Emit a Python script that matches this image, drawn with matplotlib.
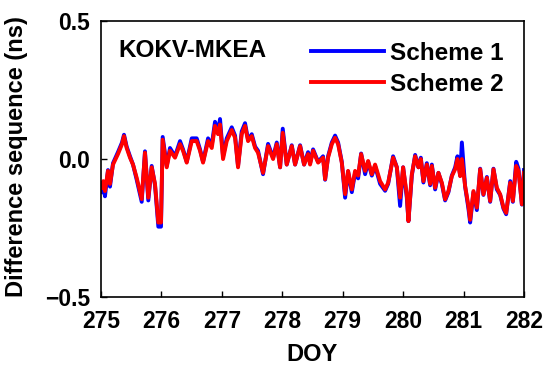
import matplotlib
matplotlib.use("Agg")
import matplotlib.pyplot as plt

plt.rcParams['font.family'] = ['Liberation Sans', 'DejaVu Sans']
plt.rcParams['font.weight'] = 'bold'

# DOY values
doy = [275.012, 275.038, 275.066, 275.116, 275.149, 275.199, 275.281, 275.348, 275.381, 275.425,
       275.480, 275.530, 275.591, 275.674, 275.728, 275.783, 275.839, 275.894, 275.949, 275.993,
       276.021, 276.088, 276.142, 276.225, 276.308, 276.358, 276.419, 276.502, 276.584, 276.639,
       276.689, 276.772, 276.833, 276.887, 276.937, 276.970, 277.020, 277.081, 277.164, 277.219,
       277.268, 277.329, 277.384, 277.434, 277.495, 277.550, 277.599, 277.682, 277.765, 277.848,
       277.909, 277.964, 278.008, 278.074, 278.157, 278.212, 278.295, 278.361, 278.427, 278.460,
       278.510, 278.593, 278.675, 278.709, 278.758, 278.820, 278.874, 278.924, 278.985, 279.040,
       279.089, 279.151, 279.205, 279.255, 279.305, 279.371, 279.421, 279.482, 279.536, 279.619,
       279.702, 279.752, 279.834, 279.896, 279.950, 280.000, 280.061, 280.088, 280.144, 280.199,
       280.253, 280.293, 280.336, 280.392, 280.447, 280.475, 280.530, 280.584, 280.641, 280.695,
       280.750, 280.806, 280.861, 280.899, 280.944, 280.972, 281.026, 281.081, 281.109, 281.164,
       281.220, 281.275, 281.329, 281.386, 281.440, 281.495, 281.551, 281.606, 281.661, 281.705,
       281.772, 281.816, 281.871, 281.909, 281.965, 282.000]

scheme1 = [-0.120, -0.085, -0.135, -0.040, -0.100, -0.015, 0.025, 0.060, 0.088, 0.045,
           0.010, -0.020, -0.075, -0.155, 0.028, -0.150, -0.025, -0.095, -0.245, -0.245,
           0.080, -0.025, 0.040, 0.010, 0.065, 0.035, -0.010, 0.075, 0.075, 0.035,
           -0.010, 0.075, 0.050, 0.135, 0.100, 0.145, 0.010, 0.075, 0.115, 0.085,
           -0.025, 0.100, 0.130, 0.070, 0.090, 0.045, 0.030, -0.055, 0.055, 0.005,
           0.060, -0.030, 0.110, -0.020, 0.050, -0.020, 0.050, -0.020, 0.025, -0.015,
           0.035, -0.010, 0.010, -0.075, 0.010, 0.060, 0.085, 0.060, -0.010, -0.140,
           -0.045, -0.120, -0.050, -0.070, 0.020, -0.055, -0.010, -0.060, -0.025, -0.090,
           -0.115, -0.090, 0.010, -0.030, -0.170, -0.030, -0.140, -0.225, -0.060, 0.015,
           -0.030, 0.005, -0.085, -0.015, -0.095, -0.020, -0.110, -0.050, -0.090, -0.150,
           -0.120, -0.060, -0.030, 0.010, -0.060, 0.060, -0.100, -0.180, -0.230, -0.120,
           -0.185, -0.035, -0.130, -0.065, -0.155, -0.035, -0.110, -0.130, -0.180, -0.200,
           -0.080, -0.155, -0.010, -0.035, -0.165, -0.040]

scheme2 = [-0.104, -0.080, -0.116, -0.043, -0.090, -0.020, 0.018, 0.054, 0.083, 0.040,
           0.005, -0.020, -0.068, -0.145, 0.023, -0.140, -0.030, -0.090, -0.230, -0.230,
           0.070, -0.030, 0.030, 0.005, 0.054, 0.030, -0.013, 0.065, 0.065, 0.030,
           -0.013, 0.065, 0.040, 0.120, 0.090, 0.125, 0.000, 0.065, 0.105, 0.077,
           -0.030, 0.090, 0.120, 0.065, 0.083, 0.040, 0.023, -0.050, 0.047, 0.000,
           0.054, -0.030, 0.095, -0.020, 0.047, -0.020, 0.047, -0.020, 0.018, -0.020,
           0.030, -0.013, 0.005, -0.073, 0.005, 0.054, 0.077, 0.054, -0.013, -0.127,
           -0.043, -0.110, -0.043, -0.060, 0.018, -0.043, -0.007, -0.055, -0.020, -0.080,
           -0.110, -0.086, 0.005, -0.030, -0.140, -0.030, -0.130, -0.225, -0.055, 0.010,
           -0.030, 0.000, -0.080, -0.020, -0.090, -0.025, -0.104, -0.050, -0.086, -0.146,
           -0.116, -0.062, -0.037, 0.000, -0.062, 0.000, -0.098, -0.170, -0.220, -0.116,
           -0.176, -0.037, -0.128, -0.068, -0.152, -0.037, -0.104, -0.128, -0.176, -0.195,
           -0.086, -0.152, -0.025, -0.043, -0.164, -0.050]

fig = plt.figure(figsize=(5.5, 3.69), dpi=100)
ax = fig.add_axes([0.1836, 0.195, 0.7691, 0.748])

ax.plot(doy, scheme1, color='#0000ff', linewidth=2.8, label='Scheme 1')
ax.plot(doy, scheme2, color='#ff0000', linewidth=2.8, label='Scheme 2')

ax.set_xlim(275, 282)
ax.set_ylim(-0.5, 0.5)
ax.set_xticks(range(275, 283))
ax.set_yticks([-0.5, 0.0, 0.5])
ax.set_yticklabels(['\u22120.5', '0.0', '0.5'])
ax.tick_params(direction='in', labelsize=16.5, width=1, length=4)
ax.tick_params(axis='x', pad=9)
ax.tick_params(axis='y', pad=8)
for s in ax.spines.values():
    s.set_linewidth(1.2)

ax.set_xlabel('DOY', fontsize=17, fontweight='bold')
ax.xaxis.set_label_coords(0.5, -0.166)
ax.set_ylabel('Difference sequence (ns)', fontsize=17, fontweight='bold')
ax.yaxis.set_label_coords(-0.173, 0.51)

ax.text(0.04, 0.893, 'KOKV-MKEA', transform=ax.transAxes, fontsize=17.5,
        fontweight='bold', va='center', ha='left')
ax.legend(loc='upper right', frameon=False, fontsize=17.5, handlelength=3.0,
          handletextpad=0.25, labelspacing=0.33, borderaxespad=0.65,
          borderpad=0.2)

fig.savefig('out.png', dpi=100)
